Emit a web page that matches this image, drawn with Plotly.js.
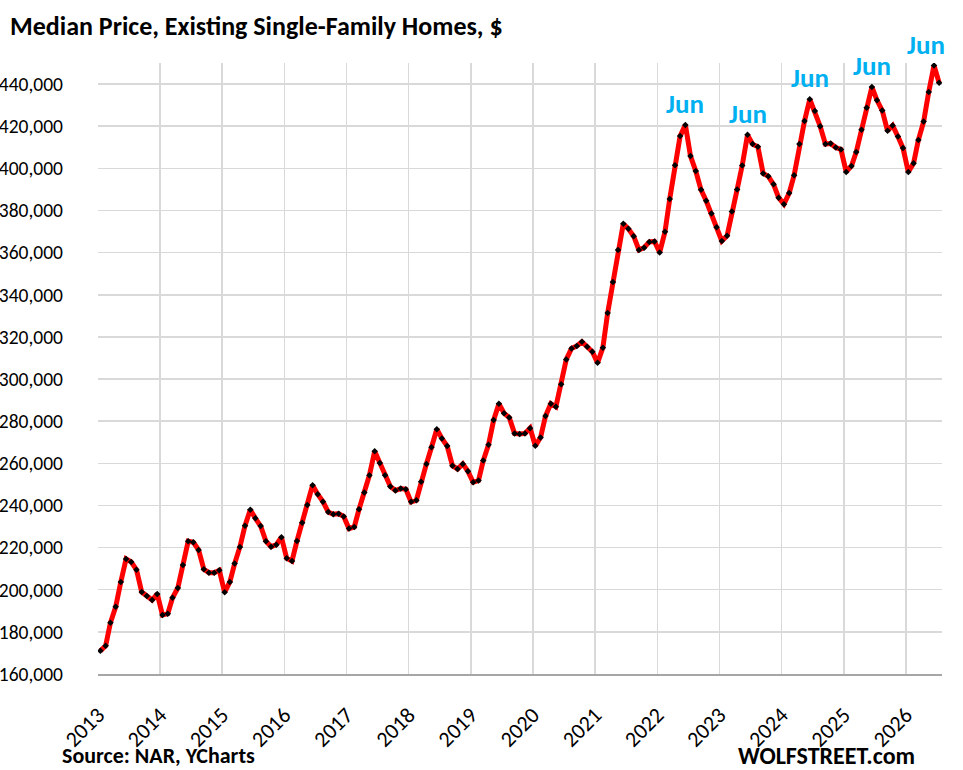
<!DOCTYPE html>
<html>
<head>
<meta charset="utf-8">
<script src="https://cdn.plot.ly/plotly-3.0.1.min.js"></script>
<style>
html,body{margin:0;padding:0;background:#fff;}
#chart{width:963px;height:770px;}
</style>
</head>
<body>
<div id="chart"></div>
<script>
// Median price, existing single-family homes, monthly values ($ thousands)
const v2013 = [171.0, 173.4, 184.3, 191.9, 203.7, 214.6, 213.2, 209.5, 198.9, 197.0, 195.1, 198.0];
const v2014 = [188.0, 188.6, 196.2, 200.8, 211.7, 223.0, 222.5, 218.9, 209.7, 208.1, 208.1, 209.2];
const v2015 = [198.8, 203.7, 212.4, 220.3, 230.4, 238.0, 233.9, 230.2, 223.0, 220.4, 221.4, 224.9];
const v2016 = [214.9, 213.6, 223.1, 231.8, 240.2, 249.6, 245.3, 241.8, 236.9, 235.8, 236.1, 234.7];
const v2017 = [229.0, 229.8, 238.2, 246.2, 254.3, 265.7, 260.2, 254.3, 249.0, 247.1, 248.0, 247.7];
const v2018 = [241.7, 242.5, 251.3, 259.7, 267.6, 276.2, 271.8, 268.2, 258.9, 257.3, 259.7, 256.2];
const v2019 = [251.0, 251.8, 261.3, 268.8, 280.5, 288.3, 283.8, 281.7, 274.2, 273.9, 274.2, 276.7];
const v2020 = [268.3, 272.3, 282.5, 288.3, 286.8, 297.5, 309.3, 314.5, 315.7, 317.7, 315.3, 313.0];
const v2021 = [307.7, 314.9, 331.3, 346.0, 361.2, 373.7, 371.3, 367.8, 361.3, 362.3, 365.1, 365.3];
const v2022 = [360.1, 369.9, 385.5, 401.5, 415.3, 420.6, 405.8, 398.7, 389.8, 384.6, 378.6, 372.0];
const v2023 = [365.5, 368.0, 379.5, 390.0, 401.4, 415.9, 411.5, 410.2, 397.6, 396.2, 392.4, 386.1];
const v2024 = [383.0, 388.3, 396.7, 411.5, 422.5, 432.8, 427.2, 420.0, 411.5, 411.8, 409.9, 409.0];
const v2025 = [398.3, 401.1, 407.7, 418.3, 428.8, 438.6, 432.3, 427.4, 417.8, 420.3, 415.1, 409.6];
const v2026 = [398.3, 402.4, 413.4, 422.2, 436.2, 448.8, 440.6];

const yearSeries = [v2013, v2014, v2015, v2016, v2017, v2018, v2019, v2020, v2021, v2022, v2023, v2024, v2025, v2026];
const firstYear = 2013;
const tickYears = [2013, 2014, 2015, 2016, 2017, 2018, 2019, 2020, 2021, 2022, 2023, 2024, 2025, 2026];
const junLabelYears = [2022, 2023, 2024, 2025, 2026];
const junLabelText = "Jun";

const pad = n => (n < 10 ? "0" + n : "" + n);
const dates = [], prices = [];
yearSeries.forEach((arr, i) => {
  arr.forEach((val, m) => {
    dates.push((firstYear + i) + "-" + pad(m + 1) + "-15");
    prices.push(val * 1000);
  });
});

const FONT = "Carlito, Calibri, Lato, 'Open Sans', sans-serif";

const trace = {
  x: dates,
  y: prices,
  type: "scatter",
  mode: "lines+markers",
  line: {color: "#FF0000", width: 5},
  marker: {symbol: "diamond", size: 5, color: "#000000"},
  hoverinfo: "x+y"
};

const annotations = junLabelYears.map((yr, k) => {
  const idx = yr - firstYear;
  return {
    x: yr + "-06-15",
    y: yearSeries[idx][5] * 1000,
    xref: "x", yref: "y",
    text: "<b>" + junLabelText + "</b>",
    showarrow: false,
    yanchor: "bottom",
    yshift: 3,
    xshift: (k === junLabelYears.length - 1) ? -8 : 0,
    font: {family: FONT, size: 27, color: "#00B0F0"}
  };
});

annotations.push({
  xref: "paper", yref: "paper",
  x: -0.045, y: -0.1326, xanchor: "left", yanchor: "middle",
  text: "<b>Source: NAR, YCharts</b>", showarrow: false,
  font: {family: FONT, size: 22, color: "#000"}
});
annotations.push({
  xref: "paper", yref: "paper",
  x: 0.970, y: -0.1326, xanchor: "right", yanchor: "middle",
  text: "<b>WOLFSTREET.com</b>", showarrow: false,
  font: {family: FONT, size: 24, color: "#000"}
});

const layout = {
  width: 963,
  height: 770,
  margin: {l: 98, r: 21, t: 63, b: 96},
  paper_bgcolor: "#ffffff",
  plot_bgcolor: "#ffffff",
  showlegend: false,
  title: {
    text: "<b>Median Price, Existing Single-Family Homes, $</b>",
    x: 0.0104, xanchor: "left",
    y: 0.967, yanchor: "middle",
    font: {family: FONT, size: 26, color: "#000"}
  },
  xaxis: {
    type: "date",
    range: ["2013-01-01", "2026-08-01"],
    tickvals: tickYears.map(y => y + "-01-01"),
    ticktext: tickYears.map(String),
    tickangle: -45,
    tickfont: {family: FONT, size: 22, color: "#000"},
    ticks: "outside",
    ticklen: 6,
    tickcolor: "rgba(0,0,0,0)",
    ticklabelstandoff: 12,
    showgrid: true,
    gridcolor: "#D9D9D9",
    gridwidth: 1.5,
    showline: true,
    linecolor: "#A6A6A6",
    linewidth: 1.5,
    zeroline: false,
    fixedrange: true
  },
  yaxis: {
    range: [160000, 450000],
    tick0: 160000,
    dtick: 20000,
    tickformat: ",d",
    tickfont: {family: FONT, size: 19.5, color: "#000"},
    ticklabelstandoff: 34,
    showgrid: true,
    gridcolor: "#D9D9D9",
    gridwidth: 1.5,
    showline: false,
    ticks: "",
    zeroline: false,
    fixedrange: true
  },
  annotations: annotations
};

Plotly.newPlot("chart", [trace], layout, {displayModeBar: false, staticPlot: true});
</script>
</body>
</html>
